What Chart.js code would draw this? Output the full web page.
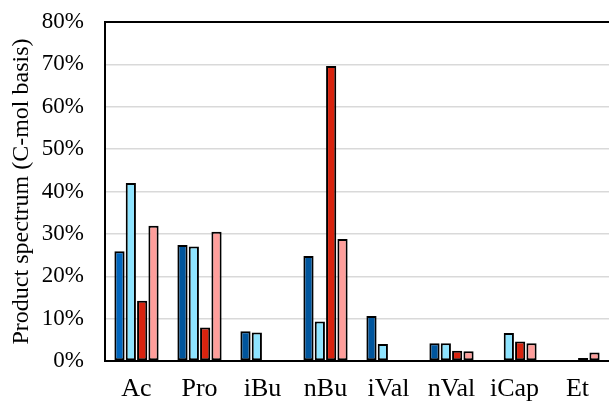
<!DOCTYPE html>
<html>
<head>
<meta charset="utf-8">
<script src="https://cdn.jsdelivr.net/npm/chart.js@4"></script>
<style>
  html, body { margin: 0; padding: 0; background: #fff; }
  #wrap { width: 609px; height: 406px; }
</style>
</head>
<body>
<div id="wrap"><canvas id="myChart"></canvas></div>
<script>
// categories + values (% C-mol)
const categories = ['Ac', 'Pro', 'iBu', 'nBu', 'iVal', 'nVal', 'iCap', 'Et'];
const serie1 = [25.9, 27.4, 7.0, 24.8, 10.6, 4.2, 0.1, 0.1];
const serie2 = [42.0, 27.0, 6.7, 9.3, 4.0, 4.2, 6.6, 0.1];
const serie3 = [14.2, 7.9, 0.1, 69.6, 0.1, 2.4, 4.6, 0.7];
const serie4 = [31.9, 30.5, 0.1, 28.8, 0.1, 2.3, 4.2, 2.0];
const yTicks = [0, 10, 20, 30, 40, 50, 60, 70, 80];

Chart.defaults.font.family = '"Liberation Serif"';
Chart.defaults.color = '#000';

function ds(data, color) {
    return {
        data: data,
        backgroundColor: color,
        borderColor: '#000',
        borderWidth: 2,
        borderSkipped: false,
        categoryPercentage: 0.72,
        barPercentage: 0.9
    };
}

const ctx = document.getElementById('myChart');
const graphique = new Chart(ctx.getContext('2d'), {
    type: 'bar',
    data: {
        labels: categories,
        datasets: [
            ds(serie1, ['#0066BE', '#00559C', '#00559C', '#00569E', '#00569E', '#00569E', '#00569E', '#00569E']),
            ds(serie2, '#8EE4FF'),
            ds(serie3, '#D8230E'),
            ds(serie4, '#FF9E9B')
        ]
    },
    options: {
        responsive: true,
        maintainAspectRatio: false,
        animation: false,
        layout: { padding: { top: 22, right: 0, left: 0, bottom: 0 } },
        plugins: { legend: { display: false }, tooltip: { enabled: false } },
        scales: {
            x: {
                grid: { display: false, drawTicks: false },
                border: { color: '#000', width: 2 },
                ticks: { padding: 13, font: { size: 26 } },
                afterFit: s => { s.height = 45; s.paddingLeft = 0; s.paddingRight = 0; }
            },
            y: {
                min: 0, max: 80,
                afterBuildTicks: s => { s.ticks = yTicks.map(v => ({ value: v })); },
                grid: {
                    drawTicks: false,
                    lineWidth: c => c.tick && c.tick.value === 80 ? 2 : 1.5,
                    color: c => c.tick && c.tick.value === 80 ? '#000' : '#d9d9d9'
                },
                border: { color: '#000', width: 2 },
                ticks: {
                    padding: 21,
                    font: { size: 23 },
                    callback: v => v + '%'
                },
                title: {
                    display: true,
                    text: 'Product spectrum (C-mol basis)',
                    font: { size: 24 },
                    padding: { top: 7, bottom: 0 }
                },
                afterFit: s => { s.width = 105; s.paddingTop = 0; s.paddingBottom = 0; }
            }
        }
    }
});
</script>
</body>
</html>
